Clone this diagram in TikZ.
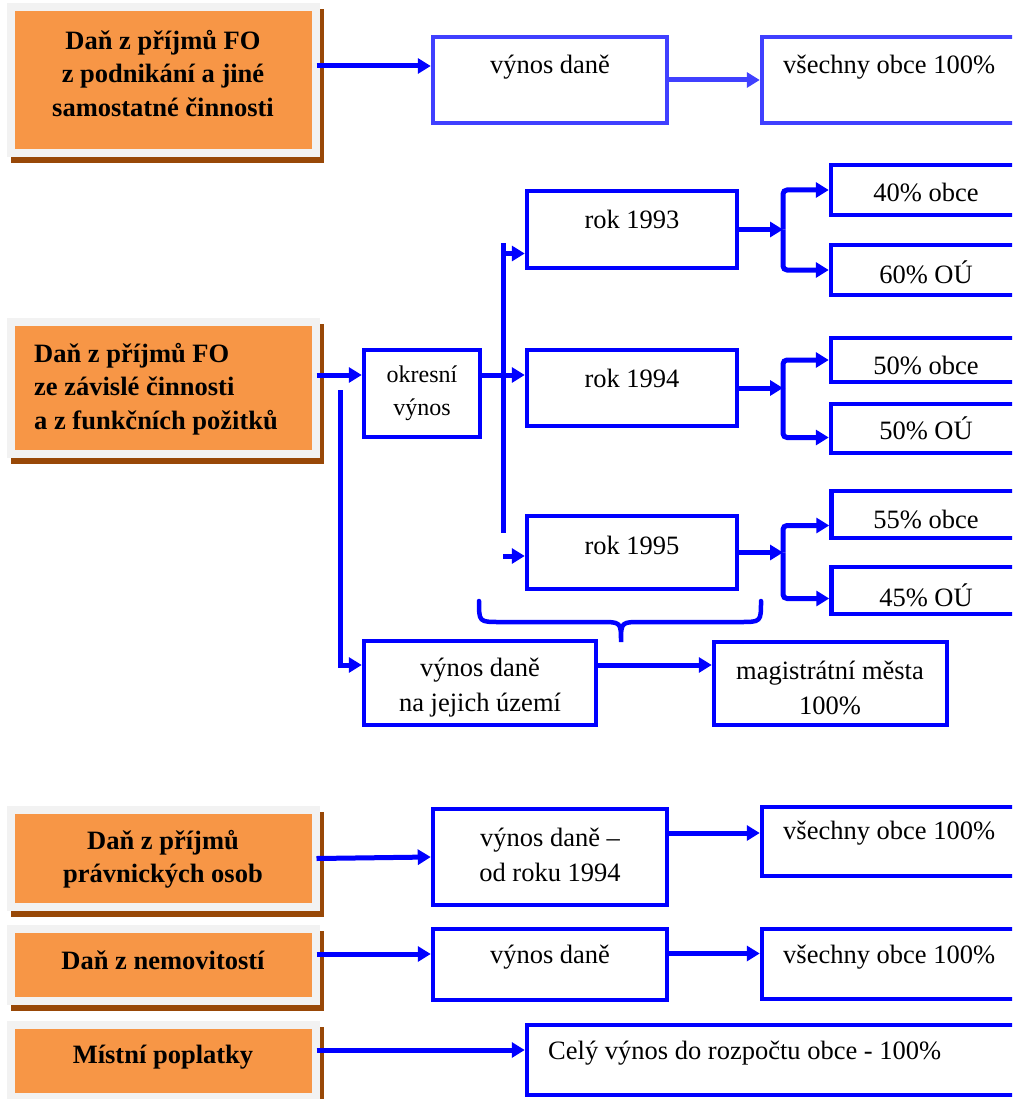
\documentclass[tikz,border=0pt]{standalone}
\usepackage{fontspec}
\setmainfont{Liberation Serif}
\usetikzlibrary{arrows.meta}

\definecolor{taxorange}{HTML}{F79646}
\definecolor{framegray}{HTML}{F2F2F2}
\definecolor{shadebrown}{HTML}{984807}
\definecolor{flowblue}{RGB}{0,0,255}
\definecolor{flowblueA}{RGB}{64,64,255}

\tikzset{
  taxbox/.style={fill=taxorange, draw=framegray, line width=8pt, minimum width=304.5pt, inner sep=0pt,
    preaction={draw=shadebrown, line width=8pt, transform canvas={shift={(4pt,-6pt)}}}},
  bbox/.style={draw=flowblue, line width=4.5pt, inner sep=0pt},
  txt/.style={font=\fontsize{26.5}{35}\selectfont, inner sep=0pt, align=center},
  otxt/.style={font=\bfseries\fontsize{26.5}{33.5}\selectfont, inner sep=0pt, align=center},
  arr/.style={draw=flowblue, line width=5pt, -{Triangle[length=13pt,width=15pt]}},
  bline/.style={draw=flowblue, line width=5pt},
}

\begin{document}
\begin{tikzpicture}[x=1pt, y=-1pt]
  \clip (0,0) rectangle (1012,1099);

  % dane (leva strana)
  \node[taxbox, minimum height=146pt] (ob1) at (163.25,80) {};
  \node[otxt] (ob1t) at (163,73.5) {Daň z příjmů FO\\z podnikání a jiné\\samostatné činnosti};
  \node[taxbox, minimum height=132pt] (ob2) at (163.25,388) {};
  \node[otxt, align=left, anchor=west] (ob2t) at (34,389) {Daň z příjmů FO\\ze závislé činnosti\\a z funkčních požitků};
  \node[taxbox, minimum height=97pt] (ob3) at (163.25,858.5) {};
  \node[otxt] (ob3t) at (163,859.5) {Daň z příjmů\\právnických osob};
  \node[taxbox, minimum height=72pt] (ob4) at (163.25,965) {};
  \node[otxt] (ob4t) at (163,960) {Daň z nemovitostí};
  \node[taxbox, minimum height=72pt] (ob5) at (163.25,1061) {};
  \node[otxt] (ob5t) at (163,1057) {Místní poplatky};

  % prvni radek
  \node[bbox, draw=flowblueA, minimum width=234pt, minimum height=86pt] (vyn1) at (550,80) {};
  \node[txt] (vyn1t) at (550,67) {výnos daně};
  \node[bbox, draw=flowblueA, minimum width=254pt, minimum height=86pt] (vse1) at (889,80) {};
  \node[txt, anchor=west] (vse1t) at (783,67) {všechny obce 100\%};
  \draw[arr] ([xshift=-3pt, yshift=14pt]ob1.east) -- ([yshift=14pt]vyn1.west);
  \draw[arr, draw=flowblueA] (vyn1.east) -- (vse1.west);

  % okresni vynos
  \node[bbox, minimum width=116pt, minimum height=87pt] (okr) at (422,393.5) {};
  \node[txt, font=\fontsize{24}{33}\selectfont] (okrt) at (422,393.5) {okresní\\výnos};
  \node[bbox, minimum width=210pt, minimum height=77pt] (r93) at (632,229.5) {};
  \node[txt] (r93t) at (632,219) {rok 1993};
  \node[bbox, minimum width=210pt, minimum height=76pt] (r94) at (632,388) {};
  \node[txt] (r94t) at (632,378) {rok 1994};
  \node[bbox, minimum width=210pt, minimum height=73pt] (r95) at (632,552.5) {};
  \node[txt] (r95t) at (632,545) {rok 1995};

  \node[bbox, minimum width=189pt, minimum height=50pt] (p40) at (925.5,190) {};
  \node[txt] (p40t) at (926,192) {40\% obce};
  \node[bbox, minimum width=189pt, minimum height=50pt] (p60) at (925.5,270) {};
  \node[txt] (p60t) at (926,272) {60\% OÚ};
  \node[bbox, minimum width=189pt, minimum height=44pt] (p50a) at (925.5,360) {};
  \node[txt] (p50at) at (926,365) {50\% obce};
  \node[bbox, minimum width=189pt, minimum height=49pt] (p50b) at (925.5,428.5) {};
  \node[txt] (p50bt) at (926,428) {50\% OÚ};
  \node[bbox, minimum width=189pt, minimum height=47pt] (p55) at (926,514.5) {};
  \node[txt] (p55t) at (926,519) {55\% obce};
  \node[bbox, minimum width=189pt, minimum height=47pt] (p45) at (926,590.5) {};
  \node[txt] (p45t) at (926,595) {45\% OÚ};

  \coordinate (xsplit) at (783,0);
  \coordinate (trunktop) at (503,243);
  \coordinate (trunkbot) at (503,533);
  \coordinate (droptop) at (340,390);

  \draw[arr] ([xshift=-3pt, yshift=13pt]ob2.east) -- ([yshift=13pt]ob2.east -| okr.west);
  \draw[arr] ([yshift=13pt]ob2.east -| okr.east) -- ([yshift=13pt]ob2.east -| r94.west);
  \draw[bline] (trunktop) -- (trunkbot);
  \draw[arr] ([yshift=-24pt]r93.west -| trunktop) -- ([yshift=-24pt]r93.west);
  \draw[arr] ([yshift=-3.5pt]r95.west -| trunktop) -- ([yshift=-3.5pt]r95.west);

  \draw[arr] (r93.east) -- (r93.east -| xsplit);
  \draw[arr, rounded corners=4pt] (r93.east -| xsplit) |- (p40.west);
  \draw[arr, rounded corners=4pt] (r93.east -| xsplit) |- (p60.west);
  \draw[arr] (r94.east) -- (r94.east -| xsplit);
  \draw[arr, rounded corners=4pt] (r94.east -| xsplit) |- (p50a.west);
  \draw[arr, rounded corners=4pt] (r94.east -| xsplit) |- ([yshift=-9pt]p50b.west);
  \draw[arr] (r95.east) -- (r95.east -| xsplit);
  \draw[arr, rounded corners=4pt] (r95.east -| xsplit) |- ([yshift=-11pt]p55.west);
  \draw[arr, rounded corners=4pt] (r95.east -| xsplit) |- ([yshift=-8pt]p45.west);

  % zavorka
  \draw[bline, line width=4.5pt, line cap=round] (479,601) .. controls (479,622) .. (500,622) -- (600,622)
    .. controls (621,622) .. (621,642) .. controls (621,622) .. (642,622) -- (740,622)
    .. controls (761,622) .. (761,601);

  % magistratni mesta
  \node[bbox, minimum width=232pt, minimum height=84pt] (vdu) at (480,683) {};
  \node[txt] (vdut) at (480,687.5) {výnos daně\\na jejich území};
  \node[bbox, minimum width=233pt, minimum height=83pt] (mag) at (830.5,683.5) {};
  \node[txt] (magt) at (830,687.5) {magistrátní města\\100\%};
  \draw[arr] (droptop) |- ([yshift=18pt]vdu.west);
  \draw[arr] ([yshift=18pt]vdu.east) -- ([yshift=18pt]vdu.east -| mag.west);

  % pravnicke osoby, nemovitosti, poplatky
  \node[bbox, minimum width=234pt, minimum height=96pt] (vyn3) at (550,857) {};
  \node[txt] (vyn3t) at (550,854.5) {výnos daně –\\od roku 1994};
  \node[bbox, minimum width=254pt, minimum height=69pt] (vse3) at (889,841.5) {};
  \node[txt, anchor=west] (vse3t) at (783,833) {všechny obce 100\%};
  \node[bbox, minimum width=234pt, minimum height=71pt] (vyn4) at (550,964.5) {};
  \node[txt] (vyn4t) at (550,957) {výnos daně};
  \node[bbox, minimum width=254pt, minimum height=70pt] (vse4) at (889,964) {};
  \node[txt, anchor=west] (vse4t) at (783,957) {všechny obce 100\%};
  \node[bbox, minimum width=570pt, minimum height=70pt] (cely) at (812,1060) {};
  \node[txt, anchor=west] (celyt) at (548,1053) {Celý výnos do rozpočtu obce - 100\%};

  \draw[arr] ([xshift=-3pt]ob3.east) -- (vyn3.west);
  \draw[arr] ([yshift=24pt]vyn3.east) -- ([yshift=24pt]vyn3.east -| vse3.west);
  \draw[arr] ([xshift=-3pt, yshift=11pt]ob4.east) -- ([yshift=11pt]ob4.east -| vyn4.west);
  \draw[arr] ([yshift=11pt]vyn4.east) -- ([yshift=11pt]vyn4.east -| vse4.west);
  \draw[arr] ([xshift=-3pt, yshift=11pt]ob5.east) -- ([yshift=11pt]ob5.east -| cely.west);
\end{tikzpicture}
\end{document}
